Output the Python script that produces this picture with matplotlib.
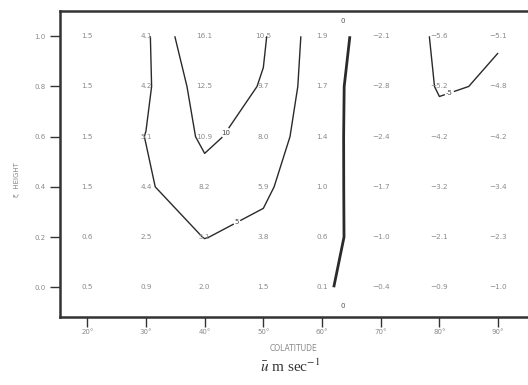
import numpy as np
import matplotlib
matplotlib.use("Agg")
import matplotlib.pyplot as plt

# Gitter: Kolatitude (Grad) und Hoehe
colatitude = [20, 30, 40, 50, 60, 70, 80, 90]
height = [0.0, 0.2, 0.4, 0.6, 0.8, 1.0]

# u-Werte je Hoehe (Zeile), von 0.0 bis 1.0
u_h00 = [0.5, 0.9, 2.0, 1.5, 0.1, -0.4, -0.9, -1.0]
u_h02 = [0.6, 2.5, 5.1, 3.8, 0.6, -1.0, -2.1, -2.3]
u_h04 = [1.5, 4.4, 8.2, 5.9, 1.0, -1.7, -3.2, -3.4]
u_h06 = [1.5, 5.1, 10.9, 8.0, 1.4, -2.4, -4.2, -4.2]
u_h08 = [1.5, 4.2, 12.5, 9.7, 1.7, -2.8, -5.2, -4.8]
u_h10 = [1.5, 4.1, 16.1, 10.5, 1.9, -2.1, -5.6, -5.1]

levels = [-5, 0, 5, 10]
x_ticklabels = ["20°", "30°", "40°", "50°", "60°", "70°", "80°", "90°"]
y_ticklabels = ["0.0", "0.2", "0.4", "0.6", "0.8", "1.0"]

U = np.array([u_h00, u_h02, u_h04, u_h06, u_h08, u_h10])
X, Y = np.meshgrid(colatitude, height)

plt.rcParams["mathtext.fontset"] = "stix"
fig = plt.figure(figsize=(5.28, 3.85), dpi=100)
ax = fig.add_axes([0.1136, 0.177, 0.8864, 0.794])

cs = ax.contour(X, Y, U, levels=levels, colors="#2a2a2a",
                linewidths=[1.0, 2.0, 1.0, 1.0], linestyles="solid")
labels = ax.clabel(cs, fmt="%d", fontsize=5, colors="#444444",
                   manual=[(82.6, 0.72), (46.0, 0.24), (44.7, 0.6)],
                   inline=True, inline_spacing=2)
for t in labels:
    t.set_rotation(0)

# Werte an den Gitterpunkten
for i, h in enumerate(height):
    for j, c in enumerate(colatitude):
        v = U[i, j]
        s = f"{v:.1f}".replace("-", "\u2212")
        ax.text(c, h, s, ha="center", va="center", fontsize=5.2,
                color="#8a8a8a")

# Null-Linie beschriften
ax.text(63.5, 1.06, "0", ha="center", va="center", fontsize=5, color="#555555")
ax.text(63.5, -0.075, "0", ha="center", va="center", fontsize=5, color="#555555")

ax.set_xlim(15.35, 95.1)
ax.set_ylim(-0.118, 1.1)
ax.set_xticks(colatitude)
ax.set_xticklabels(x_ticklabels)
ax.set_yticks(height)
ax.set_yticklabels(y_ticklabels)
ax.tick_params(axis="both", direction="out", length=7, width=1.0,
               colors="#333333", labelsize=5, labelcolor="#8a8a8a")
ax.tick_params(axis="x", pad=2)

for side in ["left", "top", "bottom"]:
    ax.spines[side].set_linewidth(1.8)
    ax.spines[side].set_color("#333333")
ax.spines["right"].set_visible(False)

ax.set_xlabel("COLATITUDE", fontsize=5.5, color="#888888", labelpad=6)
ax.set_ylabel("\u03be  HEIGHT", fontsize=5, color="#888888")
ax.yaxis.set_label_coords(-0.085, 0.45)

fig.text(0.55, 0.025, r"$\bar{u}$ m sec$^{-1}$", ha="center", va="bottom",
         fontsize=11, color="#333333", family="Liberation Serif")

fig.savefig("out.png", dpi=100)
